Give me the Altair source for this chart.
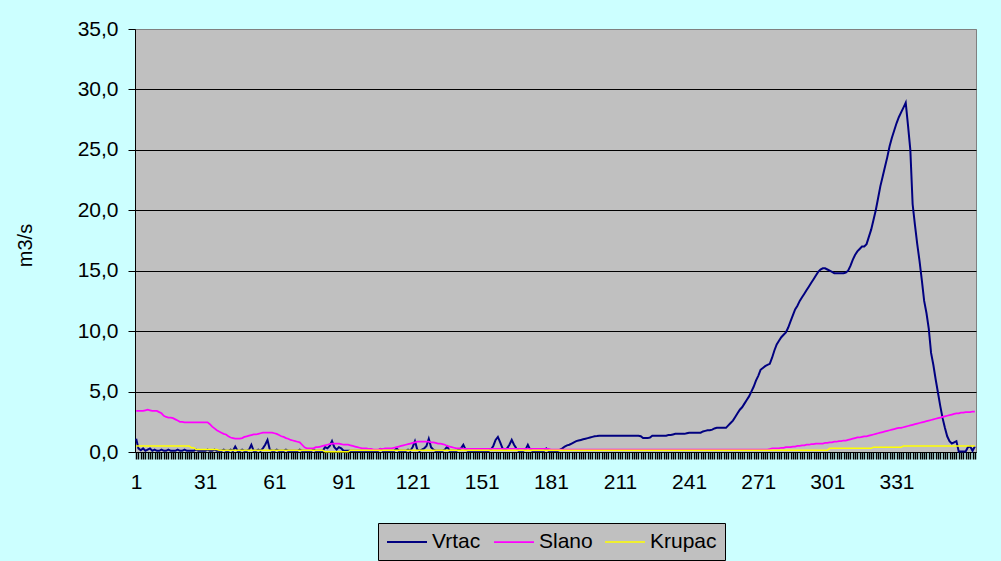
import altair as alt
import pandas as pd

# Daily discharge (m3/s) at three stations over one year
days = list(range(1, 366))

vrtac = [
    1.1, 0.3, 0.15, 0.3, 0.1, 0.2, 0.3, 0.1, 0.2, 0.1,
    0.1, 0.2, 0.1, 0.1, 0.2, 0.1, 0.1, 0.1, 0.2, 0.1,
    0.1, 0.2, 0.1, 0.1, 0.1, 0.1, 0.2, 0.1, 0.1, 0.1,
    0.1, 0.2, 0.1, 0.1, 0.2, 0.1, 0.1, 0.1, 0.2, 0.1,
    0.1, 0.2, 0.1, 0.45, 0.1, 0.1, 0.2, 0.1, 0.1, 0.2,
    0.6, 0.1, 0.1, 0.2, 0.1, 0.3, 0.6, 1.0, 0.2, 0.1,
    0.1, 0.2, 0.1, 0.1, 0.1, 0.2, 0.1, 0.1, 0.1, 0.1,
    0.1, 0.2, 0.1, 0.1, 0.1, 0.1, 0.1, 0.2, 0.1, 0.1,
    0.1, 0.1, 0.4, 0.3, 0.5, 0.9, 0.4, 0.2, 0.4, 0.3,
    0.1, 0.1, 0.1, 0.1, 0.1, 0.1, 0.1, 0.1, 0.1, 0.1,
    0.1, 0.1, 0.1, 0.1, 0.1, 0.1, 0.25, 0.1, 0.1, 0.1,
    0.1, 0.1, 0.1, 0.3, 0.1, 0.1, 0.1, 0.1, 0.2, 0.1,
    0.4, 0.9, 0.2, 0.1, 0.2, 0.3, 0.5, 1.1, 0.4, 0.2,
    0.1, 0.1, 0.1, 0.1, 0.2, 0.45, 0.1, 0.1, 0.1, 0.1,
    0.2, 0.3, 0.6, 0.2, 0.1, 0.1, 0.1, 0.1, 0.1, 0.1,
    0.1, 0.1, 0.1, 0.1, 0.2, 0.5, 1.0, 1.25, 0.8, 0.3,
    0.2, 0.3, 0.6, 1.0, 0.6, 0.3, 0.1, 0.1, 0.1, 0.2,
    0.6, 0.2, 0.1, 0.1, 0.1, 0.1, 0.1, 0.1, 0.3, 0.1,
    0.1, 0.1, 0.1, 0.1, 0.2, 0.3, 0.45, 0.55, 0.6, 0.7,
    0.8, 0.9, 0.95, 1.0, 1.05, 1.1, 1.15, 1.2, 1.25, 1.3,
    1.32, 1.35, 1.35, 1.35, 1.35, 1.35, 1.35, 1.35, 1.35, 1.35,
    1.35, 1.35, 1.35, 1.35, 1.35, 1.35, 1.35, 1.35, 1.35, 1.3,
    1.15, 1.15, 1.15, 1.2, 1.35, 1.35, 1.35, 1.35, 1.35, 1.35,
    1.35, 1.4, 1.4, 1.45, 1.5, 1.5, 1.5, 1.5, 1.5, 1.55,
    1.6, 1.6, 1.6, 1.6, 1.6, 1.6, 1.7, 1.75, 1.8, 1.8,
    1.85, 1.95, 2.0, 2.0, 2.0, 2.0, 2.0, 2.2, 2.4, 2.6,
    2.9, 3.2, 3.5, 3.7, 4.0, 4.3, 4.6, 5.0, 5.4, 5.9,
    6.3, 6.8, 6.95, 7.1, 7.2, 7.3, 7.8, 8.4, 8.9, 9.2,
    9.5, 9.7, 9.9, 10.3, 10.8, 11.3, 11.8, 12.1, 12.5, 12.8,
    13.1, 13.4, 13.7, 14.0, 14.3, 14.6, 14.9, 15.1, 15.2, 15.2,
    15.1, 15.0, 14.9, 14.8, 14.8, 14.8, 14.8, 14.8, 14.85, 15.0,
    15.4, 15.9, 16.3, 16.6, 16.8, 17.0, 17.0, 17.2, 17.8, 18.4,
    19.2, 20.0, 21.0, 22.0, 22.8, 23.6, 24.4, 25.3, 26.0, 26.6,
    27.2, 27.7, 28.1, 28.5, 28.9, 27.0, 25.0, 20.5, 18.8, 17.2,
    15.8, 14.2, 12.5, 11.5, 10.2, 8.2, 7.2, 6.0, 4.9, 3.8,
    2.8, 2.0, 1.3, 0.9, 0.7, 0.8, 0.9, 0.05, 0.05, 0.05,
    0.05, 0.4, 0.45, 0.1, 0.45,
]

slano = [
    3.4, 3.4, 3.4, 3.4, 3.45, 3.5, 3.45, 3.4, 3.4, 3.4,
    3.3, 3.2, 3.0, 2.9, 2.85, 2.85, 2.8, 2.7, 2.6, 2.5,
    2.5, 2.45, 2.45, 2.45, 2.45, 2.45, 2.45, 2.45, 2.45, 2.45,
    2.45, 2.45, 2.3, 2.1, 1.95, 1.8, 1.7, 1.6, 1.5, 1.45,
    1.3, 1.2, 1.15, 1.1, 1.1, 1.1, 1.15, 1.25, 1.3, 1.35,
    1.4, 1.45, 1.45, 1.5, 1.55, 1.6, 1.6, 1.6, 1.6, 1.6,
    1.55, 1.5, 1.4, 1.3, 1.25, 1.15, 1.1, 1.0, 0.95, 0.9,
    0.85, 0.8, 0.6, 0.4, 0.3, 0.3, 0.3, 0.3, 0.4, 0.4,
    0.45, 0.5, 0.55, 0.6, 0.65, 0.7, 0.7, 0.7, 0.7, 0.65,
    0.6, 0.6, 0.6, 0.55, 0.5, 0.45, 0.4, 0.35, 0.3, 0.3,
    0.3, 0.25, 0.25, 0.2, 0.2, 0.2, 0.25, 0.25, 0.3, 0.3,
    0.3, 0.3, 0.35, 0.4, 0.45, 0.5, 0.55, 0.6, 0.65, 0.7,
    0.75, 0.8, 0.85, 0.85, 0.85, 0.85, 0.85, 0.85, 0.8, 0.8,
    0.75, 0.7, 0.7, 0.65, 0.6, 0.5, 0.45, 0.4, 0.35, 0.3,
    0.3, 0.3, 0.25, 0.25, 0.25, 0.25, 0.25, 0.25, 0.25, 0.25,
] + [0.25] * 30 + [0.2] * 80 + [
    0.2, 0.2, 0.2, 0.2, 0.2, 0.2, 0.2, 0.2, 0.2, 0.2,
    0.2, 0.2, 0.2, 0.2, 0.2, 0.25, 0.3, 0.3, 0.3, 0.3,
    0.35, 0.35, 0.4, 0.4, 0.4, 0.45, 0.45, 0.5, 0.5, 0.55,
    0.55, 0.6, 0.6, 0.65, 0.65, 0.7, 0.7, 0.7, 0.7, 0.75,
    0.75, 0.8, 0.8, 0.85, 0.85, 0.9, 0.9, 0.95, 0.95, 1.0,
    1.05, 1.1, 1.15, 1.2, 1.2, 1.25, 1.3, 1.3, 1.35, 1.4,
    1.45, 1.5, 1.55, 1.6, 1.65, 1.7, 1.75, 1.8, 1.85, 1.9,
    1.95, 2.0, 2.0, 2.05, 2.1, 2.15, 2.2, 2.25, 2.3, 2.35,
    2.4, 2.45, 2.5, 2.55, 2.6, 2.65, 2.7, 2.75, 2.8, 2.85,
    2.9, 2.95, 3.0, 3.05, 3.1, 3.15, 3.2, 3.2, 3.25, 3.25,
    3.3, 3.3, 3.3, 3.35, 3.35,
]

krupac = ([0.5] * 24 + [0.35] * 2 + [0.2] * 10 + [0.15] * 46 + [0.02] * 11
          + [0.15] * 208 + [0.3] * 19 + [0.4] * 13 + [0.5] * 32)

series_names = ["Vrtac", "Slano", "Krupac"]
series_colors = ["#000080", "#FF00FF", "#FFFF00"]
series_widths = [2.0, 1.5, 1.5]
y_ticks = [0, 5, 10, 15, 20, 25, 30, 35]

rows = []
for name, values in zip(series_names, [vrtac, slano, krupac]):
    for d, v in zip(days, values):
        rows.append({"day": d, "flow": v, "series": name})
df = pd.DataFrame(rows)

FONT = "Liberation Sans"
FS = 21

x_enc = alt.X(
    "day:Q",
    scale=alt.Scale(domain=[0.5, 365.5], nice=False, zero=False),
    axis=alt.Axis(
        values=days,
        labelExpr="(datum.value - 1) % 30 == 0 && datum.value < 360 ? datum.value : ''",
        labelOverlap=False,
        labelFlush=False,
        labelFont=FONT,
        labelFontSize=FS,
        labelColor="#000000",
        labelPadding=12,
        tickColor="#000000",
        tickSize=7,
        tickWidth=1.5,
        domainColor="#000000",
        domainWidth=1,
        grid=False,
        title=None,
    ),
)

y_enc = alt.Y(
    "flow:Q",
    scale=alt.Scale(domain=[0, 35], nice=False),
    axis=alt.Axis(
        values=y_ticks,
        labelExpr="replace(format(datum.value, '.1f'), '.', ',')",
        labelFont=FONT,
        labelFontSize=FS,
        labelColor="#000000",
        labelPadding=10,
        tickColor="#000000",
        tickSize=7,
        domainColor="#000000",
        grid=True,
        gridColor=alt.condition("datum.value == 35", alt.value("#808080"), alt.value("#000000")),
        gridWidth=1,
        title="m3/s",
        titleFont=FONT,
        titleFontSize=20,
        titleFontWeight="normal",
        titleColor="#000000",
        titleAngle=270,
        titleX=-110,
        titleY=216,
        titleAlign="center",
        titleBaseline="middle",
    ),
)

# Legend line symbol: a 40px horizontal stroke on a 20px layout slot
color_enc = alt.Color(
    "series:N",
    scale=alt.Scale(domain=series_names, range=series_colors),
    legend=alt.Legend(
        title=None,
        orient="none",
        legendX=243,
        legendY=494,
        direction="horizontal",
        columns=3,
        fillColor="#C0C0C0",
        strokeColor="#000000",
        padding=8,
        symbolType="M-2,0H2",
        symbolSize=400,
        symbolOffset=10,
        symbolStrokeWidth=1.5,
        symbolFillColor="transparent",
        labelFont=FONT,
        labelFontSize=FS,
        labelColor="#000000",
        labelOffset=14,
        columnPadding=9,
    ),
)

width_enc = alt.StrokeWidth(
    "series:N",
    scale=alt.Scale(domain=series_names, range=series_widths),
    legend=None,
)

layers = [
    alt.Chart(df)
    .transform_filter(alt.datum.series == name)
    .mark_line(interpolate="linear")
    .encode(x=x_enc, y=y_enc, color=color_enc, strokeWidth=width_enc)
    for name in series_names
]

chart = (
    alt.layer(*layers)
    .properties(
        width=841,
        height=423,
        autosize=alt.AutoSizeParams(type="none"),
        padding={"left": 135, "top": 29, "right": 25, "bottom": 109},
    )
    .configure(background="#CCFFFF")
    .configure_view(fill="#C0C0C0", stroke="#808080", strokeWidth=1)
)

chart.save("out.html", embed_options={"renderer": "svg", "actions": False})
